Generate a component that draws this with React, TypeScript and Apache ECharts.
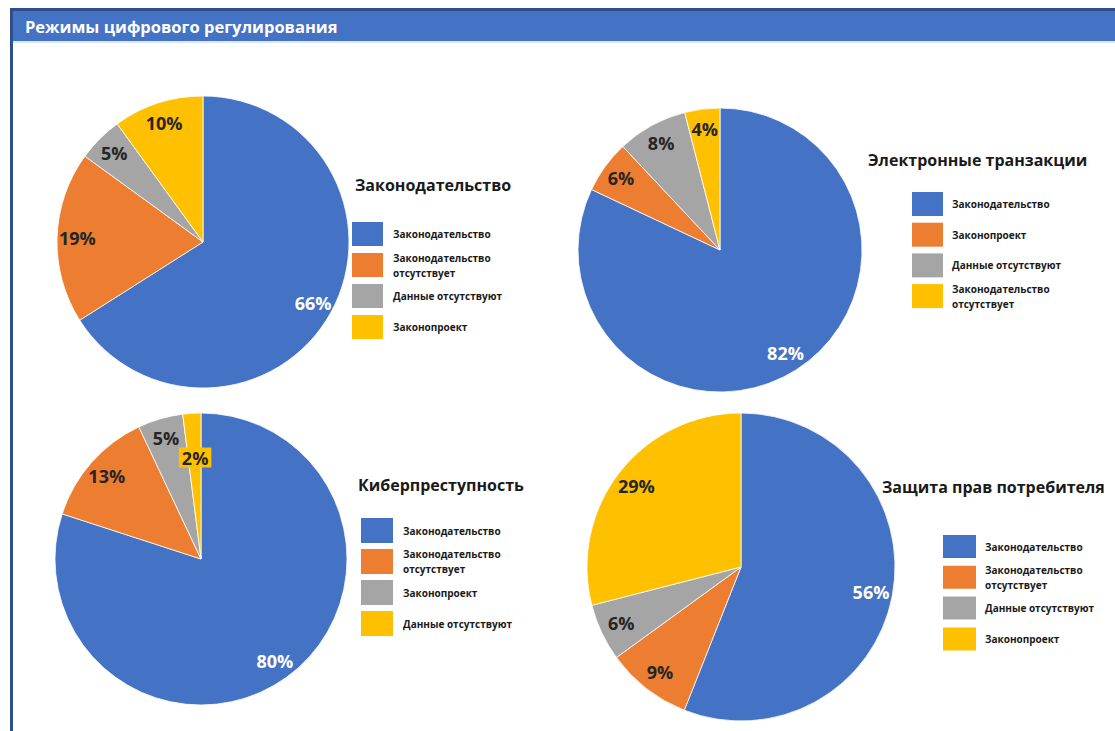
import React, { useEffect, useRef } from "react";
import * as echarts from "echarts";

const HEADER = "Режимы цифрового регулирования";
const COLORS = ["#4472C4", "#ED7D31", "#A5A5A5", "#FFC000"];

const title1 = "Законодательство";
const names1 = ["Законодательство", "Законодательство\nотсутствует", "Данные отсутствуют", "Законопроект"];
const values1 = [66, 19, 5, 10];

const title2 = "Электронные транзакции";
const names2 = ["Законодательство", "Законопроект", "Данные отсутствуют", "Законодательство\nотсутствует"];
const values2 = [82, 6, 8, 4];

const title3 = "Киберпреступность";
const names3 = ["Законодательство", "Законодательство\nотсутствует", "Законопроект", "Данные отсутствуют"];
const values3 = [80, 13, 5, 2];

const title4 = "Защита прав потребителя";
const names4 = ["Законодательство", "Законодательство\nотсутствует", "Данные отсутствуют", "Законопроект"];
const values4 = [56, 9, 6, 29];

const FONT = "'Open Sans', 'Noto Sans', sans-serif";

const layouts = [
  { title: title1, names: names1, values: values1, cx: 203, cy: 242, r: 146, tx: 355, ty: 185, lx: 352, ly: 222, ls: 31, lw: 31, lh: 24, ltx: 393 },
  { title: title2, names: names2, values: values2, cx: 720, cy: 250, r: 142, tx: 868, ty: 160, lx: 912, ly: 192, ls: 30.7, lw: 31, lh: 24, ltx: 952 },
  { title: title3, names: names3, values: values3, cx: 201, cy: 559, r: 146, tx: 358, ty: 485, lx: 361, ly: 518, ls: 31, lw: 32, lh: 25, ltx: 403 },
  { title: title4, names: names4, values: values4, cx: 741, cy: 567, r: 154, tx: 882, ty: 487, lx: 943, ly: 535, ls: 30.8, lw: 33, lh: 23, ltx: 985 },
];

export default function App() {
  const ref = useRef<HTMLDivElement>(null);
  useEffect(() => {
    document.body.style.margin = "0";
    const chart = echarts.init(ref.current!, null, { renderer: "svg" });
    const series: any[] = [];
    const graphic: any[] = [
      { type: "rect", shape: { x: 0, y: 0, width: 1115, height: 731 }, style: { fill: "#fff" }, z: -10 },
      { type: "rect", shape: { x: 10, y: 8, width: 1105, height: 3 }, style: { fill: "#2E4E8C" } },
      { type: "rect", shape: { x: 10, y: 8, width: 3, height: 723 }, style: { fill: "#2E4E8C" } },
      { type: "rect", shape: { x: 13, y: 11, width: 1102, height: 30 }, style: { fill: "#4472C4" } },
      { type: "rect", shape: { x: 13, y: 41, width: 1102, height: 2 }, style: { fill: "#DCE6F5" } },
      {
        type: "text", x: 25, y: 26,
        style: { text: HEADER, fill: "#fff", font: `bold 16.5px ${FONT}`, textVerticalAlign: "middle" },
      },
    ];
    layouts.forEach((L, k) => {
      const data = L.values.map((v, i) => ({
        name: L.names[i].replace("\n", " "),
        value: v,
        itemStyle: { color: COLORS[i] },
      }));
      series.push({
        type: "pie",
        center: [L.cx, L.cy],
        radius: [0, L.r],
        startAngle: 90,
        clockwise: true,
        label: { show: false },
        labelLine: { show: false },
        itemStyle: { borderColor: "#fff", borderWidth: 0.8 },
        data,
        silent: true,
      });
      series.push({
        type: "pie",
        center: [L.cx, L.cy],
        radius: [L.r * 0.68, L.r],
        startAngle: 90,
        clockwise: true,
        silent: true,
        itemStyle: { color: "transparent" },
        labelLine: { show: false },
        label: {
          show: true,
          position: "inside",
          formatter: "{c}%",
          fontFamily: FONT,
          fontWeight: "bold",
          fontSize: 18,
        },
        data: L.values.map((v, i) => {
          const item: any = {
            name: L.names[i].replace("\n", " "),
            value: v,
            label: { color: i === 0 ? "#ffffff" : "#262626" },
          };
          if (k === 2 && i === 3) {
            item.label = { color: "#262626", backgroundColor: "#FFC000", padding: [2, 3, 0, 3], offset: [2, 24] };
          }
          return item;
        }),
      });
      graphic.push({
        type: "text", x: L.tx, y: L.ty,
        style: { text: L.title, fill: "#1a1a1a", font: `bold 16px ${FONT}`, textVerticalAlign: "middle" },
      });
      L.names.forEach((n, i) => {
        const y = L.ly + i * L.ls;
        graphic.push({
          type: "rect",
          shape: { x: L.lx, y, width: L.lw, height: L.lh },
          style: { fill: COLORS[i] },
        });
        graphic.push({
          type: "text", x: L.ltx, y: y + L.lh / 2,
          style: {
            text: n, fill: "#1a1a1a", font: `bold 10px ${FONT}`,
            textVerticalAlign: "middle", lineHeight: 15,
          },
        });
      });
    });
    chart.setOption({ animation: false, series, graphic });
    return () => chart.dispose();
  }, []);
  return <div ref={ref} style={{ width: 1115, height: 731 }} />;
}
